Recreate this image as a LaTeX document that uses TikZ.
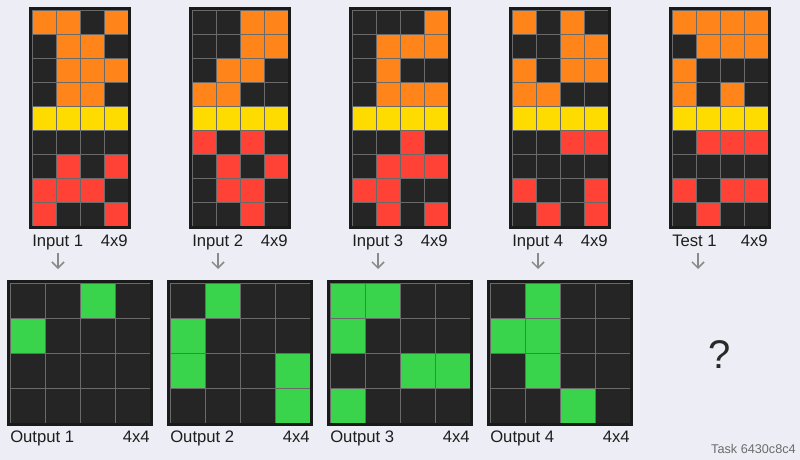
\documentclass[tikz,border=0pt]{standalone}
\usepackage{fontspec}
\setmainfont{Liberation Sans}
\usetikzlibrary{arrows.meta}

\definecolor{bgpanel}{HTML}{EDEDF5}
\definecolor{cK}{HTML}{252525}
\definecolor{cO}{HTML}{FF851B}
\definecolor{cY}{HTML}{FFDC00}
\definecolor{cR}{HTML}{FF4136}
\definecolor{cG}{HTML}{3AD34C}
\definecolor{framegray}{HTML}{1A1A1A}
\definecolor{linegray}{HTML}{6A6A6A}
\definecolor{arrowgray}{HTML}{8A8A8A}
\definecolor{textdark}{HTML}{1E1E1E}

\tikzset{
  cellline/.style={draw=linegray, line width=0.5pt},
  gridframe/.style={draw=framegray, line width=2.25pt},
  lbl/.style={text=textdark, font=\fontsize{12.5}{14}\selectfont, inner sep=0pt},
  flow/.style={draw=arrowgray, line width=1.1pt, -{Straight Barb[length=4.5pt, width=9pt]}},
}

% x0, y0, cell, width, height, rows
\newcommand{\arcgrid}[6]{%
  \foreach \row [count=\r from 0] in {#6}
    \foreach \c [count=\i from 0] in \row
      \filldraw[cellline, fill=c\c] ({#1+\i*#3},{#2+\r*#3}) rectangle +(#3,#3);
  \draw[gridframe] ({#1-1.5},{#2-1.5}) rectangle ({#1+#4+1.5},{#2+#5+1.5});
}

\begin{document}
\begin{tikzpicture}[x=0.75pt, y=-0.75pt]
	\fill[bgpanel] (0,0) rectangle (800,460);
	\useasboundingbox (0,0) rectangle (800,460);
	% inputs
	\arcgrid{32}{10}{24}{96}{216}{{O,O,K,O},{K,O,O,K},{K,O,O,O},{K,O,O,K},{Y,Y,Y,Y},{K,K,K,K},{K,R,K,R},{R,R,R,K},{R,K,K,R}}
	\arcgrid{192}{10}{24}{96}{216}{{K,K,O,O},{K,K,O,O},{K,O,O,K},{O,O,K,K},{Y,Y,Y,Y},{R,K,R,K},{K,R,K,R},{K,R,R,K},{K,K,R,K}}
	\arcgrid{352}{10}{24}{96}{216}{{K,K,K,O},{K,O,O,O},{K,O,K,K},{K,O,O,O},{Y,Y,Y,Y},{K,K,R,K},{K,R,R,R},{R,R,K,K},{K,R,K,R}}
	\arcgrid{512}{10}{24}{96}{216}{{O,K,O,K},{K,K,O,O},{O,K,O,O},{O,O,K,K},{Y,Y,Y,Y},{K,K,R,R},{K,K,K,K},{R,K,K,R},{K,R,K,R}}
	\arcgrid{672}{10}{24}{96}{216}{{O,O,O,O},{K,O,O,O},{O,K,K,K},{O,K,O,K},{Y,Y,Y,Y},{K,R,R,R},{K,K,K,K},{R,K,R,R},{K,R,K,K}}
	% outputs
	\arcgrid{10}{283}{35}{140}{140}{{K,K,G,K},{G,K,K,K},{K,K,K,K},{K,K,K,K}}
	\arcgrid{170}{283}{35}{140}{140}{{K,G,K,K},{G,K,K,K},{G,K,K,G},{K,K,K,G}}
	\arcgrid{330}{283}{35}{140}{140}{{G,G,K,K},{G,K,K,K},{K,K,G,G},{G,K,K,K}}
	\arcgrid{490}{283}{35}{140}{140}{{K,G,K,K},{G,G,K,K},{K,G,K,K},{K,K,G,K}}
	% labels and arrows
	\foreach \k in {1,...,4} {
		\node[lbl, anchor=base west] (in\k) at ({32+160*(\k-1)},246) {Input \k};
		\node[lbl, anchor=base east] (in\k size) at ({128+160*(\k-1)},246) {4x9};
		\coordinate (in\k arr) at ({58+160*(\k-1)},253);
		\coordinate (out\k arr) at ({58+160*(\k-1)},269);
		\draw[flow] (in\k arr) -- (out\k arr);
		\node[lbl, anchor=base west] (out\k) at ({10+160*(\k-1)},442) {Output \k};
		\node[lbl, anchor=base east] (out\k size) at ({150+160*(\k-1)},442) {4x4};
	}
	\node[lbl, anchor=base west] (test1) at (672,246) {Test 1};
	\node[lbl, anchor=base east] (test1size) at (768,246) {4x9};
	\coordinate (test1arr) at (698,253);
	\coordinate (quest1arr) at (698,269);
	\draw[flow] (test1arr) -- (quest1arr);
	\node[text=textdark!95, font=\fontsize{30}{32}\selectfont, anchor=base] (quest) at (720,368) {?};
	\node[text=gray!85!black, font=\fontsize{9.5}{10}\selectfont, anchor=base east, inner sep=0pt] (task) at (796,453) {Task 6430c8c4};
\end{tikzpicture}
\end{document}
